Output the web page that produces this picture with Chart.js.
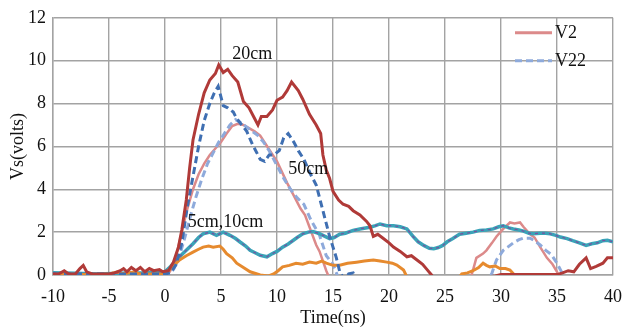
<!DOCTYPE html>
<html>
<head>
<meta charset="utf-8">
<script src="https://cdn.jsdelivr.net/npm/chart.js@4"></script>
<style>
  html, body { margin: 0; padding: 0; background: #fff; }
  #wrap { width: 623px; height: 333px; }
</style>
</head>
<body>
<div id="wrap"><canvas id="chart" width="623" height="333"></canvas></div>
<script>
// 20cm, V2 (dark red solid)
var red20T = [-10, -9.5, -9, -8.6, -8, -7.6, -7.3, -7, -6.5, -5, -4.5, -4, -3.7, -3.4, -3, -2.6, -2.2, -1.8, -1.4, -1, -0.5, -0.2,
  0.3, 0.75, 1.2, 1.5, 1.9, 2.2, 2.5, 3, 3.5, 4, 4.5, 4.8, 5.2, 5.6, 6, 6.5, 7, 7.5, 8, 8.3, 8.6, 9.1, 9.6, 10, 10.5, 10.9, 11.3,
  11.9, 12.3, 12.9, 13.5, 13.9, 14.1, 14.4, 14.7, 15, 15.5, 15.9, 16.4, 16.8, 17.4, 18, 18.3, 18.6, 19, 19.5, 20, 20.4, 21, 21.6,
  22, 22.5, 23, 23.4, 23.8, 24.2, 29.5, 30, 35, 35.5, 36, 36.5, 37, 37.6, 38, 38.5, 39.1, 39.5, 40];
var red20V = [0.05, 0.05, 0.2, 0.05, 0.05, 0.3, 0.45, 0.15, 0.05, 0.05, 0.1, 0.2, 0.3, 0.15, 0.35, 0.2, 0.35, 0.15, 0.3, 0.2, 0.25, 0.15,
  0.2, 0.6, 1.3, 2.1, 3.5, 5.0, 6.3, 7.5, 8.5, 9.1, 9.4, 9.8, 9.45, 9.6, 9.3, 9.0, 8.1, 7.8, 7.3, 7.0, 7.4, 7.4, 7.7, 8.15, 8.3, 8.6, 9.0,
  8.6, 8.2, 7.5, 7.0, 6.6, 5.6, 4.9, 4.5, 3.9, 3.5, 3.3, 3.2, 3.0, 2.8, 2.5, 2.3, 1.8, 1.9, 1.7, 1.5, 1.3, 1.1, 0.85,
  0.9, 0.7, 0.5, 0.25, 0, -0.3, -0.05, 0.02, 0.02, 0.1, 0.2, 0.15, 0.5, 0.8, 0.3, 0.4, 0.55, 0.8, 0.8];

// 20cm, V22 (dark blue dashed)
var blue20T = [-10, 0, 0.5, 1, 1.5, 2, 2.5, 3, 3.5, 4, 4.4, 4.75, 5.2, 5.6, 6.1, 6.4, 7, 7.3, 7.8, 8.2, 8.5, 8.9, 9.3, 9.7, 10.2,
  10.6, 11, 11.5, 11.9, 12.4, 13, 13.5, 14.1, 14.7, 15.3, 15.6, 16, 16.4, 16.8, 17.2, 40];
var blue20V = [0.05, 0.05, 0.1, 0.5, 1.5, 3.2, 4.6, 6.0, 7.2, 8.0, 8.5, 8.8, 7.9, 7.8, 7.6, 7.3, 6.9, 6.7, 6.1, 5.7, 5.4, 5.3, 5.6, 5.6, 5.8,
  6.4, 6.6, 6.2, 5.8, 5.4, 4.7, 4.2, 3.0, 1.8, 0.8, 0.15, -0.2, 0.05, 0.1, -0.3, -0.3];

// 50cm, V2 (pink solid)
var pink50T = [-10, 0.3, 0.6, 1, 1.5, 2, 2.5, 3, 3.5, 4, 4.5, 5, 5.5, 6, 6.5, 7, 7.5, 8, 8.5, 9, 9.5, 10, 10.9, 11.5, 12.1, 12.5,
  13, 13.5, 13.8, 14.4, 14.8, 27.2, 27.5, 27.8, 28.4, 28.7, 29.2, 29.6, 30.2, 30.8, 31.2, 31.7, 32, 32.6, 33, 33.5, 34.1, 34.6,
  35, 35.3, 40];
var pink50V = [0.05, 0.05, 0.3, 0.9, 2.0, 3.1, 4.0, 4.7, 5.2, 5.6, 5.9, 6.2, 6.6, 6.95, 7.05, 7.0, 6.85, 6.7, 6.5, 6.1, 5.7, 5.3, 4.3, 3.7, 3.1, 2.8,
  2.1, 1.4, 1.1, 0.2, -0.3, -0.3, 0.23, 0.8, 1.0, 1.15, 1.5, 1.8, 2.15, 2.45, 2.4, 2.45, 2.25, 1.9, 1.75, 1.3, 0.8, 0.5,
  0.15, -0.3, -0.3];

// 50cm, V22 (light blue dashed)
var lblue50T = [-10, 0.5, 0.8, 1.3, 1.8, 2.3, 2.8, 3.3, 3.8, 4.3, 4.8, 5.3, 5.8, 6.3, 6.8, 7.3, 7.8, 8.3, 8.8, 9.3, 9.8, 10.5,
  11.2, 11.8, 12.4, 13, 13.8, 14.4, 15, 15.3, 15.6, 28.8, 29.2, 29.6, 30.2, 30.6, 31.1, 31.6, 32, 32.6, 33, 33.5, 34, 34.5,
  35, 35.5, 35.8, 40];
var lblue50V = [0.05, 0.05, 0.3, 0.9, 1.8, 2.8, 3.7, 4.5, 5.2, 5.7, 6.2, 6.6, 7.0, 7.25, 7.1, 6.9, 6.7, 6.5, 6.2, 5.8, 5.3, 4.6,
  4.0, 3.6, 3.3, 2.6, 1.85, 0.9, 0.5, 0.1, -0.3, -0.3, 0.1, 0.7, 1.15, 1.3, 1.5, 1.65, 1.72, 1.72, 1.6, 1.4, 1.15, 0.95,
  0.55, 0.05, -0.3, -0.3];

// 5cm (teal solid, V22 purple dashed on top)
var teal5T = [-10, -8, -6, -4, -2, 0, 0.5, 1.3, 1.9, 2.5, 3, 3.4, 4, 4.6, 5.2, 5.8, 6.3, 6.7, 7.2, 7.6, 8, 8.5, 9.1, 9.6, 10,
  10.5, 11, 11.4, 11.8, 12.3, 12.8, 13.2, 13.7, 14.1, 14.7, 15.1, 15.6, 16.1, 16.8, 17.4, 18.3, 18.8, 19.2, 19.8, 20.4, 21,
  21.6, 22.2, 22.6, 23.1, 23.6, 24, 24.4, 24.8, 25.2, 25.7, 26.3, 26.9, 27.5, 28.1, 28.7, 29.3, 29.8, 30.2, 30.7, 31.1, 31.6,
  32, 32.5, 32.9, 33.5, 34, 34.4, 34.9, 35.3, 35.9, 36.4, 37, 37.6, 38.1, 38.6, 39.1, 39.5, 40];
var teal5V = [0.1, 0.08, 0.05, 0.08, 0.1, 0.15, 0.4, 0.85, 1.15, 1.46, 1.75, 1.92, 2.0, 1.85, 2.0, 1.85, 1.7, 1.54, 1.35, 1.15, 1.05, 0.92, 0.85, 1.0, 1.1,
  1.3, 1.45, 1.6, 1.75, 1.92, 2.0, 2.03, 1.95, 1.85, 1.7, 1.75, 1.9, 1.95, 2.08, 2.15, 2.23, 2.3, 2.38, 2.3, 2.3, 2.25,
  2.15, 1.77, 1.55, 1.38, 1.25, 1.23, 1.28, 1.38, 1.55, 1.7, 1.9, 1.95, 2.0, 2.08, 2.1, 2.15, 2.25, 2.3, 2.2, 2.15, 2.1,
  2.05, 1.95, 1.92, 1.95, 1.95, 1.92, 1.85, 1.77, 1.7, 1.6, 1.5, 1.38, 1.46, 1.5, 1.6, 1.62, 1.55];

// 10cm (orange solid)
var orange10T = [-10, -6, -5, -4.2, -3.8, -2.7, -2.3, -1, 0, 0.5, 1.3, 1.9, 2.5, 3, 3.4, 3.9, 4.3, 4.9, 5.2, 5.5, 6, 6.4, 7, 7.6,
  8.5, 9.2, 9.7, 10.1, 10.5, 11.1, 11.7, 12.3, 12.9, 13.5, 14, 14.4, 15, 15.6, 16.3, 17.1, 17.8, 18.6, 19.2, 19.8, 20.3, 20.7,
  21.3, 21.8, 26, 26.5, 27, 27.5, 28, 28.4, 28.7, 29, 29.5, 29.9, 30.4, 30.8, 31.2, 31.6, 40];
var orange10V = [0.02, 0.02, 0.05, 0.15, 0.05, 0.15, 0.05, 0.05, 0.05, 0.3, 0.7, 0.9, 1.07, 1.2, 1.3, 1.35, 1.3, 1.35, 1.2, 1.0, 0.8, 0.55, 0.35, 0.15,
  0.0, -0.05, 0.05, 0.2, 0.38, 0.45, 0.55, 0.5, 0.6, 0.55, 0.65, 0.55, 0.45, 0.46, 0.55, 0.6, 0.65, 0.7, 0.65, 0.6, 0.55, 0.46,
  0.23, -0.3, -0.3, 0.05, 0.1, 0.2, 0.35, 0.55, 0.45, 0.38, 0.42, 0.3, 0.3, 0.23, 0.0, -0.3, -0.3];

// axis ticks
var xTicks = [-10, -5, 0, 5, 10, 15, 20, 25, 30, 35, 40];
var yTicks = [0, 2, 4, 6, 8, 10, 12];

// text labels on the plot
var noteText = ['20cm', '50cm', '5cm,10cm'];
var noteT = [7.8, 12.8, 5.4];
var noteV = [10.3, 4.95, 2.45];

var legendNames = ['V2', 'V22'];

function pts(ts, vs) {
  return ts.map(function(t, i) { return { x: t, y: vs[i] }; });
}

var serif = '"Liberation Serif", "DejaVu Serif", serif';
var gridGray = '#a3a3a3';

function line(label, ts, vs, color, width, dash, order) {
  return {
    label: label,
    data: pts(ts, vs),
    borderColor: color,
    borderWidth: width,
    borderDash: dash || [],
    pointRadius: 0,
    tension: 0,
    fill: false,
    order: order
  };
}

// draws the legend and the cm notes
var notesPlugin = {
  id: 'notes',
  afterDatasetsDraw: function(chart) {
    var ctx = chart.ctx;
    var xs = chart.scales.x, ys = chart.scales.y;
    ctx.save();
    ctx.fillStyle = '#111';
    ctx.font = '18px ' + serif;
    ctx.textAlign = 'center';
    ctx.textBaseline = 'middle';
    noteText.forEach(function(txt, i) {
      ctx.fillText(txt, xs.getPixelForValue(noteT[i]), ys.getPixelForValue(noteV[i]));
    });

    // legend, top right inside the plot
    var lx = chart.chartArea.right - 98, ly = chart.chartArea.top + 15;
    ctx.lineWidth = 3;
    ctx.strokeStyle = '#dc8a8a';
    ctx.setLineDash([]);
    ctx.beginPath(); ctx.moveTo(lx, ly); ctx.lineTo(lx + 37, ly); ctx.stroke();
    ctx.strokeStyle = '#8eaadb';
    ctx.setLineDash([7, 4]);
    ctx.beginPath(); ctx.moveTo(lx, ly + 28); ctx.lineTo(lx + 37, ly + 28); ctx.stroke();
    ctx.setLineDash([]);
    ctx.textAlign = 'left';
    ctx.fillText(legendNames[0], lx + 40, ly);
    ctx.fillText(legendNames[1], lx + 40, ly + 28);
    ctx.restore();
  }
};

var ctx = document.getElementById('chart').getContext('2d');
new Chart(ctx, {
  type: 'line',
  data: {
    datasets: [
      line('50cm V2', pink50T, pink50V, '#dc8a8a', 2.5, null, 9),
      line('50cm V22', lblue50T, lblue50V, '#8eaadb', 3, [7, 4], 8),
      line('5cm V2', teal5T, teal5V, '#3aa3b8', 3.5, null, 7),
      line('5cm V22', teal5T, teal5V, '#7a4f9e', 1.2, [3, 4], 6),
      line('10cm', orange10T, orange10V, '#e68a2e', 3, null, 5),
      line('20cm V22', blue20T, blue20V, '#3f6fb2', 3, [7, 4], 4),
      line('20cm V2', red20T, red20V, '#b03a38', 3, null, 3)
    ]
  },
  options: {
    responsive: false,
    animation: false,
    layout: { padding: { top: 15, right: 0, left: 0, bottom: 0 } },
    plugins: {
      legend: { display: false },
      tooltip: { enabled: false }
    },
    scales: {
      x: {
        type: 'linear',
        min: -10,
        max: 40,
        afterBuildTicks: function(scale) {
          scale.ticks = xTicks.map(function(v) { return { value: v }; });
        },
        afterFit: function(scale) {
          scale.height = 58;
          scale.paddingLeft = 0;
          scale.paddingRight = 10;
        },
        grid: { color: gridGray, lineWidth: 1.4, drawTicks: false },
        border: { color: gridGray, width: 1.4 },
        ticks: { color: '#111', font: { family: serif, size: 18 }, padding: 11, maxRotation: 0 },
        title: { display: true, text: 'Time(ns)', color: '#111', font: { family: serif, size: 18 }, padding: { top: 0, bottom: 4 } }
      },
      y: {
        min: 0,
        max: 12,
        afterBuildTicks: function(scale) {
          scale.ticks = yTicks.map(function(v) { return { value: v }; });
        },
        afterFit: function(scale) { scale.width = 53; },
        grid: { color: gridGray, lineWidth: 1.4, drawTicks: false },
        border: { color: gridGray, width: 1.4 },
        ticks: { color: '#111', font: { family: serif, size: 18 }, padding: 7 },
        title: { display: true, text: 'Vs(volts)', color: '#111', font: { family: serif, size: 18 }, padding: { top: 7, bottom: 0 } }
      }
    }
  },
  plugins: [notesPlugin]
});
</script>
</body>
</html>
